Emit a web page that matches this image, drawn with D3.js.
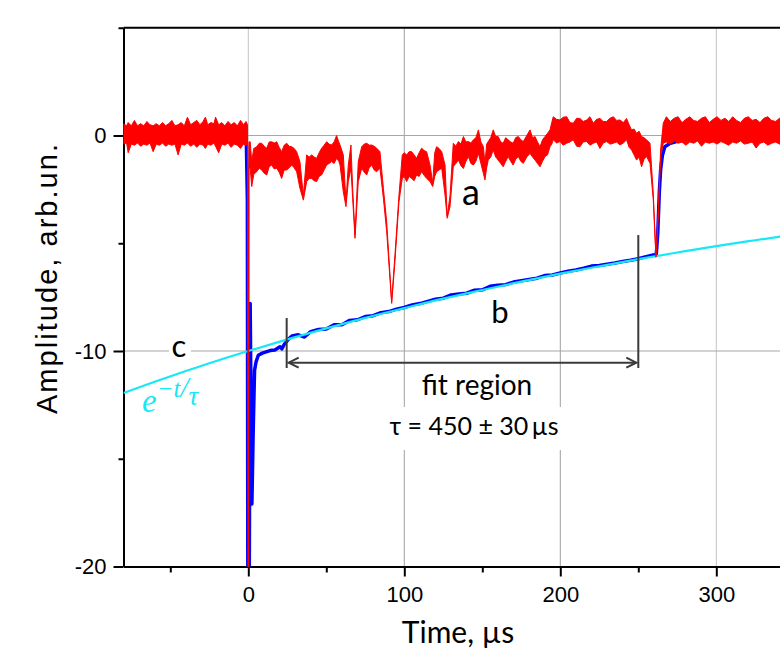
<!DOCTYPE html>
<html>
<head>
<meta charset="utf-8">
<script src="https://cdn.jsdelivr.net/npm/d3@7"></script>
<style>
  body { margin: 0; background: #fff; }
  svg { display: block; }
</style>
</head>
<body>
<svg id="chart" width="780" height="650"></svg>
<script>
// ---- data ----
// red trace "a": [time µs, lower edge, upper edge] of the noisy band
const redTrace = [
  [-80, -0.40, 0.55], [-78, -0.35, 0.45], [-77, -0.80, 0.60], [-75, -0.40, 0.45],
  [-73, -0.45, 0.70], [-71, -0.35, 0.45], [-69, -0.50, 0.55], [-67, -0.40, 0.45],
  [-65, -0.45, 0.65], [-63, -0.35, 0.50], [-61, -0.75, 0.45], [-59, -0.40, 0.55],
  [-57, -0.45, 0.45], [-55, -0.35, 0.60], [-53, -0.50, 0.45], [-51, -0.40, 0.55],
  [-49, -0.45, 0.70], [-47, -0.40, 0.45], [-45, -0.90, 0.50], [-43, -0.40, 0.60],
  [-41, -0.45, 0.45], [-39, -0.35, 0.85], [-37, -0.50, 0.50], [-35, -0.40, 0.60],
  [-33, -0.55, 0.70], [-31, -0.40, 0.50], [-29, -0.45, 0.65], [-27.5, -0.60, 0.85],
  [-26, -0.40, 0.50], [-24, -0.45, 0.60], [-22, -0.35, 0.55], [-21, -0.50, 0.85],
  [-19, -0.80, 0.50], [-17, -0.40, 0.60], [-15, -0.45, 0.45], [-13, -0.35, 0.65],
  [-11, -0.55, 0.50], [-9, -0.40, 0.60], [-7, -0.45, 0.45], [-5, -0.60, 0.70],
  [-3, -0.40, 0.50], [-1.5, -0.45, 0.65], [-0.5, -0.40, 0.50],
  [0, -21, -21], [0.4, -1.5, -0.3],
  [1.2, -1.52, -0.29], [2.2, -2.37, -1.2], [3.5, -1.8, -0.6], [5.4, -1.68, -0.52],
  [7.0, -1.52, -0.36], [8.6, -1.60, -0.36], [10.2, -1.75, -0.5], [11.8, -1.83, -0.59],
  [13.4, -1.45, -0.3], [15.0, -1.37, -0.29], [16.6, -1.55, -0.35], [18.2, -1.52, -0.29],
  [19.8, -1.7, -0.55], [21.4, -1.99, -0.75], [23.0, -1.6, -0.45], [24.6, -1.60, -0.36],
  [26.2, -1.5, -0.5], [27.8, -1.37, -0.52], [29.4, -1.5, -0.6], [31.0, -1.68, -0.75],
  [33.1, -2.45, -1.21], [35.3, -3.0, -2.8], [37.4, -2.14, -0.90], [39.0, -2.0, -1.0],
  [40.6, -1.99, -0.90], [42.2, -2.1, -1.0], [43.8, -2.14, -1.06], [45.4, -1.9, -0.8],
  [47.0, -1.83, -0.59], [48.6, -1.6, -0.45], [50.2, -1.37, -0.29], [51.8, -1.3, -0.4],
  [53.4, -1.21, -0.44], [55.0, -1.3, -0.3], [56.6, -1.06, 0.0], [58.0, -1.2, -0.3],
  [58.8, -1.37, -0.44], [60.9, -2.61, -0.90], [62.6, -3.30, -3.07], [64.1, -2.14, -1.37],
  [65.8, -1.52, -0.44], [66.9, -2.92, -2.45], [68.4, -4.77, -4.6], [70.5, -2.14, -1.21],
  [72.7, -1.52, -0.52], [74.3, -1.7, -0.4], [75.9, -1.83, -0.36], [77.5, -1.5, -0.45],
  [79.1, -1.37, -0.44], [80.7, -1.6, -0.5], [82.3, -1.68, -0.59], [84.4, -1.52, -0.75],
  [86.6, -2.92, -2.45], [88.7, -4.46, -4.0], [91.9, -7.79, -7.7], [94.0, -5.85, -5.54],
  [96.6, -3.07, -2.76], [98.7, -1.99, -0.9], [100.0, -1.9, -0.8], [101.5, -2.14, -0.9],
  [103.1, -1.9, -0.75], [104.7, -1.99, -0.75], [106.3, -2.1, -0.9], [107.9, -1.83, -1.06],
  [109.5, -1.9, -0.8], [111.1, -1.68, -0.59], [112.7, -1.85, -0.7], [114.3, -1.99, -0.75],
  [116.5, -2.14, -1.37], [118.2, -2.37, -2.2], [119.5, -1.9, -0.8], [120.7, -1.68, -0.52],
  [122.3, -1.6, -0.6], [124.0, -1.52, -0.75], [126.1, -2.76, -1.37], [127.5, -3.84, -3.75],
  [129.3, -3.3, -2.8], [131.4, -1.45, -0.36], [133.0, -1.3, -0.5], [134.7, -1.14, -0.28],
  [136.3, -1.4, -0.4], [137.9, -1.53, -0.05], [139.5, -1.2, -0.3], [141.1, -0.98, -0.28],
  [142.7, -1.3, -0.35], [144.3, -1.37, -0.2], [145.9, -1.2, -0.1], [147.5, -0.83, 0.26],
  [149.1, -1.3, -0.3], [150.7, -1.76, -0.52], [151.7, -2.06, -1.29], [152.8, -1.5, -0.4],
  [153.8, -1.14, -0.28], [155.4, -1.0, -0.1], [157.0, -0.67, 0.26], [158.6, -1.0, -0.05],
  [160.2, -1.14, -0.05], [161.8, -1.3, -0.3], [163.4, -1.45, -0.36], [165.0, -1.2, -0.1],
  [166.6, -0.98, -0.2], [168.2, -1.2, -0.3], [169.8, -1.37, -0.36], [171.4, -1.1, -0.1],
  [173.1, -0.98, -0.05], [174.7, -1.2, -0.2], [176.3, -1.29, -0.28], [178.5, -1.0, 0.0],
  [180.6, -0.83, 0.26], [182.2, -1.0, -0.1], [183.8, -1.14, -0.05], [185.4, -1.3, -0.3],
  [187.0, -1.45, -0.52], [188.6, -1.2, -0.2], [190.2, -0.98, -0.05], [191.8, -0.9, 0.1],
  [193.4, -0.52, 0.26], [194.5, -0.4, 0.6], [195.5, -0.2, 0.87], [197.6, -0.35, 0.75],
  [199.8, -0.28, 0.72], [201.9, -0.45, 0.85], [204.1, -0.36, 0.87], [206.2, -0.3, 0.6],
  [208.3, -0.2, 0.57], [210.5, -0.5, 0.8], [212.6, -0.52, 0.79], [214.7, -0.3, 0.65],
  [216.9, -0.28, 0.72], [219.0, -0.45, 0.87], [221.2, -0.36, 0.57], [223.3, -0.3, 0.75],
  [225.4, -0.6, 0.79], [227.5, -0.35, 0.65], [229.7, -0.28, 0.65], [231.8, -0.4, 0.8],
  [234.0, -0.36, 0.87], [236.1, -0.3, 0.7], [238.2, -0.44, 0.72], [240.4, -0.35, 0.6],
  [242.5, -0.2, 0.79], [244.1, -0.55, 0.5], [245.7, -0.67, 0.26], [247.3, -0.9, 0.3],
  [248.9, -1.14, 0.1], [250.5, -1.0, 0.2], [252.1, -1.45, -0.05], [253.7, -1.1, -0.1],
  [255.3, -0.98, -0.2], [257.5, -1.29, -0.36], [259.6, -2.99, -2.68], [261.3, -5.65, -5.58],
  [262.8, -3.77, -3.46], [264.3, -0.98, -0.67], [266.0, -0.36, 0.57],
  [268, -0.3, 0.87], [270.5, -0.4, 0.65], [273, -0.25, 0.8], [275.5, -0.36, 0.87],
  [278, -0.3, 0.6], [280.5, -0.45, 0.75], [283, -0.3, 0.87], [285.5, -0.36, 0.7],
  [288, -0.25, 0.65], [290.5, -0.5, 0.8], [293, -0.3, 0.87], [295.5, -0.36, 0.6],
  [298, -0.3, 0.75], [300.5, -0.4, 0.87], [303, -0.28, 0.7], [305.5, -0.36, 0.8],
  [308, -0.45, 0.65], [310.5, -0.3, 0.87], [313, -0.36, 0.7], [315.5, -0.25, 0.6],
  [318, -0.4, 0.8], [320.5, -0.36, 0.87], [323, -0.3, 0.7], [325.5, -0.58, 0.75],
  [328, -0.36, 0.6], [330.5, -0.3, 0.8], [333, -0.45, 0.87], [335.5, -0.36, 0.7],
  [338, -0.3, 0.65], [340.5, -0.4, 0.8], [343, -0.36, 0.87], [345.5, -0.3, 0.7],
  [348, -0.45, 0.75], [350, -0.36, 0.6]
];

// blue trace "b": [time µs, amplitude]
const blueTrace = [
  [-80, 0], [-2, 0], [-1.2, -0.5], [-0.6, -3], [-0.3, -21], [0.6, -21],
  [1.2, -7.8], [2.3, -17.1], [3.2, -13.5], [4.0, -10.9], [5.0, -10.5], [6.4, -10.2],
  [9, -10.1], [13.9, -9.98], [17, -9.95], [20.3, -9.8], [21.5, -9.9], [23, -9.7],
  [25.6, -9.46], [28, -9.30], [32, -9.25], [36, -9.35], [40, -9.10], [45, -9.00],
  [50, -8.98], [55, -8.78], [60, -8.78], [65, -8.58], [70, -8.55], [75, -8.40],
  [80, -8.36], [85, -8.22], [90, -8.17], [95, -8.06], [100, -7.98], [105, -7.86],
  [110, -7.80], [115, -7.70], [120, -7.60], [125, -7.55], [130, -7.40], [135, -7.36],
  [140, -7.32], [145, -7.18], [150, -7.16], [155, -7.00], [160, -6.95], [165, -6.92],
  [170, -6.80], [175, -6.74], [180, -6.68], [185, -6.62], [190, -6.50], [195, -6.47],
  [200, -6.38], [205, -6.30], [210, -6.24], [215, -6.16], [220, -6.06], [225, -6.03],
  [230, -5.97], [235, -5.92], [240, -5.85], [245, -5.79], [250, -5.72], [255, -5.62],
  [259, -5.55], [261.5, -5.55], [262.5, -4.5], [263.5, -2.6], [264.3, -1.6],
  [265.5, -0.9], [267, -0.52], [270, -0.38], [276.7, -0.24], [290, -0.14],
  [298, -0.1], [320, -0.07], [350, -0.05]
];

// cyan fit curve "c": [time µs, amplitude]
const cyanFit = [
  [-80, -11.95], [-60, -11.43], [-40, -10.93], [-20, -10.45], [0, -10.0],
  [25, -9.46], [50, -8.95], [75, -8.46], [100, -8.01], [125, -7.57], [150, -7.17],
  [175, -6.78], [200, -6.41], [225, -6.07], [250, -5.74], [275, -5.43],
  [300, -5.13], [325, -4.86], [350, -4.60]
];

const xMajor = [0, 100, 200, 300];
const xMinor = [-50, 50, 150, 250];
const yMajor = [0, -10, -20];
const yMinor = [5, -5, -15];
const fitStart = 24.6, fitEnd = 250;

// ---- layout ----
const svg = d3.select('#chart');
const x = d3.scaleLinear().domain([-80, 350]).range([123.5, 794.3]);
const y = d3.scaleLinear().domain([-20, 5]).range([566.5, 27.75]);
const plotLeft = x.range()[0], plotBottom = y.range()[0], plotTop = y.range()[1];
const arial = '"Liberation Sans", Arial, sans-serif';
const sans = 'Lato, "Open Sans", sans-serif';

svg.append('defs').append('clipPath').attr('id', 'plot')
  .append('rect').attr('x', plotLeft).attr('y', plotTop)
  .attr('width', 800 - plotLeft).attr('height', plotBottom - plotTop);

// grid
const grid = svg.append('g').attr('stroke', '#a6a6a6').attr('stroke-width', 1);
xMajor.forEach(v => {
  grid.append('line').attr('x1', x(v)).attr('x2', x(v)).attr('y1', plotTop).attr('y2', plotBottom)
    .attr('stroke', v === 300 || v === 0 ? '#c4c4c4' : '#a0a0a0');
});
[0, -10].forEach(v => {
  grid.append('line').attr('x1', plotLeft).attr('x2', 800).attr('y1', y(v)).attr('y2', y(v));
});

// text boxes that hide the grid behind them
svg.append('rect').attr('x', 384).attr('y', 407).attr('width', 182).attr('height', 43).attr('fill', '#fff');
svg.append('rect').attr('x', 169).attr('y', 336).attr('width', 22).attr('height', 24).attr('fill', '#fff');

// axes
const fmt = d => String(d);
svg.append('g').attr('transform', `translate(0,${plotBottom})`)
  .call(d3.axisBottom(x).tickValues(xMajor).tickSize(10).tickSizeOuter(0).tickPadding(10).tickFormat(fmt));
svg.append('g').attr('transform', `translate(0,${plotBottom})`)
  .call(d3.axisBottom(x).tickValues(xMinor).tickSize(6).tickSizeOuter(0).tickFormat(''));
svg.append('g').attr('transform', `translate(${plotLeft},0)`)
  .call(d3.axisLeft(y).tickValues(yMajor).tickSize(10).tickSizeOuter(0).tickPadding(7).tickFormat(fmt));
svg.append('g').attr('transform', `translate(${plotLeft},0)`)
  .call(d3.axisLeft(y).tickValues(yMinor).tickSize(5).tickSizeOuter(0).tickFormat(''));
svg.selectAll('.domain, .tick line').attr('stroke', '#000').attr('stroke-width', 2);
svg.selectAll('.tick text').attr('font-family', arial).attr('font-size', 22).attr('fill', '#000');
// top frame line
svg.append('line').attr('x1', plotLeft).attr('x2', 800).attr('y1', plotTop).attr('y2', plotTop)
  .attr('stroke', '#000').attr('stroke-width', 2);

// traces
const traces = svg.append('g').attr('clip-path', 'url(#plot)');
const line = d3.line().x(d => x(d[0])).y(d => y(d[1]));

traces.append('path').datum(blueTrace)
  .attr('d', line).attr('fill', 'none').attr('stroke', '#0000ff')
  .attr('stroke-width', 3.5).attr('stroke-linejoin', 'round');

traces.append('path').datum(cyanFit)
  .attr('d', d3.line().x(d => x(d[0])).y(d => y(d[1])).curve(d3.curveMonotoneX))
  .attr('fill', 'none').attr('stroke', '#17e8f5').attr('stroke-width', 2.2);

const band = d3.area().x(d => x(d[0])).y0(d => y(d[1])).y1(d => y(d[2]));
traces.append('path').datum(redTrace)
  .attr('d', band).attr('fill', '#ff0000').attr('stroke', '#ff0000')
  .attr('stroke-width', 1).attr('stroke-linejoin', 'round');

// fit region markers
const ann = svg.append('g').attr('stroke', '#3a3a3a').attr('stroke-width', 2).attr('fill', 'none');
ann.append('line').attr('x1', x(fitStart)).attr('x2', x(fitStart)).attr('y1', y(-8.47)).attr('y2', y(-10.79));
ann.append('line').attr('x1', x(fitEnd)).attr('x2', x(fitEnd)).attr('y1', y(-4.62)).attr('y2', y(-10.79));
const ay = y(-10.54), ax0 = x(fitStart) + 2, ax1 = x(fitEnd) - 2;
ann.append('line').attr('x1', ax0).attr('x2', ax1).attr('y1', ay).attr('y2', ay);
ann.append('path').attr('d', `M${ax0 + 10},${ay - 5}L${ax0},${ay}L${ax0 + 10},${ay + 5}`);
ann.append('path').attr('d', `M${ax1 - 10},${ay - 5}L${ax1},${ay}L${ax1 - 10},${ay + 5}`);

// labels
svg.append('text').attr('x', x(142.8)).attr('y', y(-3.22)).attr('text-anchor', 'middle')
  .attr('font-family', sans).attr('font-size', 36).text('a');
svg.append('text').attr('x', x(161.3)).attr('y', y(-8.72)).attr('text-anchor', 'middle')
  .attr('font-family', sans).attr('font-size', 31).text('b');
svg.append('text').attr('x', x(-44.5)).attr('y', y(-10.27)).attr('text-anchor', 'middle')
  .attr('font-family', sans).attr('font-size', 31).text('c');
svg.append('text').attr('x', 477).attr('y', 395).attr('text-anchor', 'middle')
  .attr('font-family', sans).attr('font-size', 28).text('fit region');
svg.append('text').attr('x', 474).attr('y', 435).attr('text-anchor', 'middle')
  .attr('font-family', sans).attr('font-size', 25).text('τ = 450 ± 30\u2009µs');

const fl = svg.append('text').attr('x', 142).attr('y', 412)
  .attr('font-family', '"Liberation Serif", "DejaVu Serif", serif').attr('font-style', 'italic')
  .attr('fill', '#17e8f5').attr('font-size', 33);
fl.append('tspan').text('e');
fl.append('tspan').attr('dy', -15).attr('font-size', 25).text('−t');
fl.append('tspan').attr('font-size', 29).text('/');
fl.append('tspan').attr('dy', 8).attr('font-size', 27).text('τ');

// axis titles
svg.append('text').attr('x', 458).attr('y', 643).attr('text-anchor', 'middle')
  .attr('font-family', sans).attr('font-size', 30).text('Time, µs');
svg.append('text').attr('transform', 'translate(57,279) rotate(-90)').attr('text-anchor', 'middle')
  .attr('font-family', arial).attr('font-size', 29)
  .attr('textLength', 270).attr('lengthAdjust', 'spacing').text('Amplitude, arb.un.');
</script>
</body>
</html>
